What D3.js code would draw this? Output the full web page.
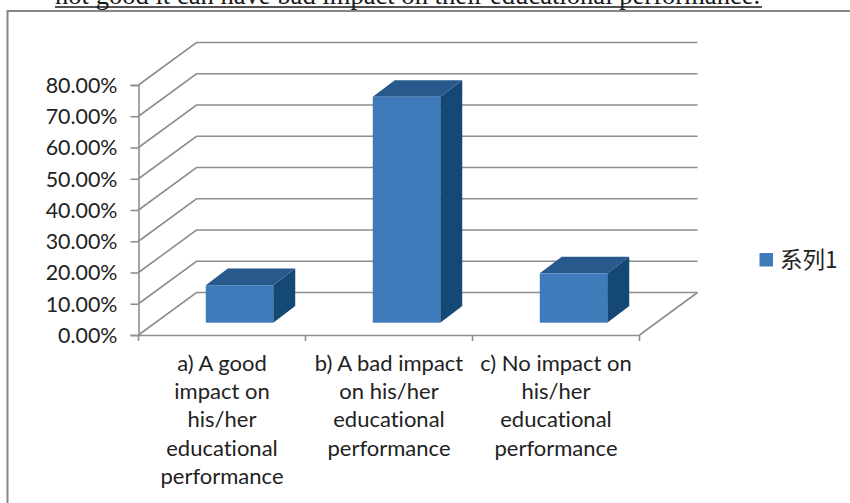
<!DOCTYPE html>
<html>
<head>
<meta charset="utf-8">
<script src="https://cdn.jsdelivr.net/npm/d3@7/dist/d3.min.js"></script>
<style>
  html, body { margin: 0; padding: 0; background: #fff; overflow: hidden; }
  text { fill: #222; font-variant-ligatures: none; }
</style>
</head>
<body>
<div id="chart"></div>
<script>
var categories = ["a", "b", "c"];
var values = [0.12, 0.723, 0.158];
var yTicks = [0, 0.1, 0.2, 0.3, 0.4, 0.5, 0.6, 0.7, 0.8];
var categoryLines = [
    ["a) A good", "impact on", "his/her", "educational", "performance"],
    ["b) A bad impact", "on his/her", "educational", "performance"],
    ["c) No impact on", "his/her", "educational", "performance"]
];
var seriesName = "系列1";
var headingText = "not good it can have bad impact on their educational performance.";

var w = 850,
    h = 503,
    gridColor = "#8e8e8e",
    labelFont = "Lato, 'Open Sans', sans-serif";

var svg = d3.select("#chart")
    .append("svg")
    .attr("width", w)
    .attr("height", h);

var y = d3.scaleLinear().domain([0, 0.8]).range([335, 85]);
var x = d3.scaleBand().domain(categories).range([138.5, 639.5]);

// how far the back wall sits from the front of the floor
var wallX = 58, wallY = 42.5;
// bars stand part way into the floor
var barInsetX = 17.5, barInsetY = 12.3, barDepthX = 22, barDepthY = 16.6;
var barW = x.bandwidth() * 0.404;

// text above the chart, cut by the top of the page
svg.append("text")
    .attr("x", 55)
    .attr("y", 4)
    .style("font-family", "'Liberation Serif', serif")
    .style("font-size", "26.6px")
    .style("fill", "#1a1a1a")
    .text(headingText);
svg.append("line")
    .attr("x1", 55).attr("x2", 762)
    .attr("y1", 7).attr("y2", 7)
    .style("stroke", "#1a1a1a")
    .style("stroke-width", 1.5);

// chart frame, the right and bottom sides are off the page
svg.append("path")
    .attr("d", "M850,11H7.5V503")
    .style("fill", "none")
    .style("stroke", "#868686")
    .style("stroke-width", 2);

// walls
svg.selectAll("path.grid")
    .data(yTicks)
    .enter()
    .append("path")
    .attr("class", "grid")
    .attr("d", function(d) {
        var y0 = y(d);
        return "M" + x.range()[0] + "," + y0 +
            "L" + (x.range()[0] + wallX) + "," + (y0 - wallY) +
            "H" + (x.range()[1] + wallX);
    })
    .style("fill", "none")
    .style("stroke", gridColor)
    .style("stroke-width", 1.6);

// floor right edge
svg.append("line")
    .attr("x1", x.range()[1]).attr("y1", y(0))
    .attr("x2", x.range()[1] + wallX).attr("y2", y(0) - wallY)
    .style("stroke", gridColor)
    .style("stroke-width", 1.6);

// axes
var yAxis = d3.axisLeft(y)
    .tickValues(yTicks)
    .tickSize(8)
    .tickPadding(13)
    .tickFormat(d3.format(".2%"));
var gy = svg.append("g")
    .attr("transform", "translate(" + x.range()[0] + ",0)")
    .call(yAxis);

var xAxis = d3.axisBottom(x).tickSize(0).tickFormat("");
var gx = svg.append("g")
    .attr("transform", "translate(0," + y(0) + ")")
    .call(xAxis);

gx.selectAll(".xtick")
    .data(x.domain().map(function(d) { return x(d); }).concat(x.range()[1]))
    .enter()
    .append("line")
    .attr("class", "xtick")
    .attr("x1", function(d) { return d; })
    .attr("x2", function(d) { return d; })
    .attr("y1", 0)
    .attr("y2", 6);

svg.selectAll(".domain, .tick line, .xtick")
    .style("stroke", gridColor)
    .style("stroke-width", 1.6);
gy.selectAll("text")
    .style("font-family", labelFont)
    .style("font-size", "21.4px")
    .style("fill", "#222")
    .attr("dy", "0.34em");

// category labels
var labels = svg.selectAll("text.cat")
    .data(categories)
    .enter()
    .append("text")
    .attr("class", "cat")
    .attr("text-anchor", "middle")
    .style("font-family", labelFont)
    .style("font-size", "22px");

labels.each(function(d, i) {
    var cx = x(d) + x.bandwidth() / 2;
    d3.select(this).selectAll("tspan")
        .data(categoryLines[i])
        .enter()
        .append("tspan")
        .attr("x", cx)
        .attr("y", function(l, j) { return 371 + j * 28.2; })
        .text(function(l) { return l; });
});

// 3d bars
var bars = svg.selectAll("g.bar")
    .data(values)
    .enter()
    .append("g")
    .attr("class", "bar");

function barLeft(i) {
    var band = x(categories[i]);
    return band + (x.bandwidth() - barW) / 2 + barInsetX;
}

bars.append("path")   // side
    .attr("d", function(d, i) {
        var r = barLeft(i) + barW, b = y(0) - barInsetY, t = b - (y(0) - y(d));
        return "M" + r + "," + b + "V" + t +
            "l" + barDepthX + "," + (-barDepthY) +
            "V" + (b - barDepthY) + "Z";
    })
    .style("fill", "#144875");

bars.append("path")   // top
    .attr("d", function(d, i) {
        var l = barLeft(i), b = y(0) - barInsetY, t = b - (y(0) - y(d));
        return "M" + l + "," + t +
            "l" + barDepthX + "," + (-barDepthY) +
            "h" + barW +
            "l" + (-barDepthX) + "," + barDepthY + "Z";
    })
    .style("fill", "#27598c");

bars.append("rect")   // front
    .attr("x", function(d, i) { return barLeft(i); })
    .attr("y", function(d) { return y(d) - barInsetY; })
    .attr("width", barW)
    .attr("height", function(d) { return y(0) - y(d); })
    .style("fill", "#3f7abb");

// legend
svg.append("rect")
    .attr("x", 759.5)
    .attr("y", 253)
    .attr("width", 13.5)
    .attr("height", 13.5)
    .style("fill", "#3f7abb");
svg.append("text")
    .attr("x", 780)
    .attr("y", 267.5)
    .style("font-family", "'Noto Sans CJK SC', sans-serif")
    .style("font-size", "22.5px")
    .text(seriesName);
</script>
</body>
</html>
